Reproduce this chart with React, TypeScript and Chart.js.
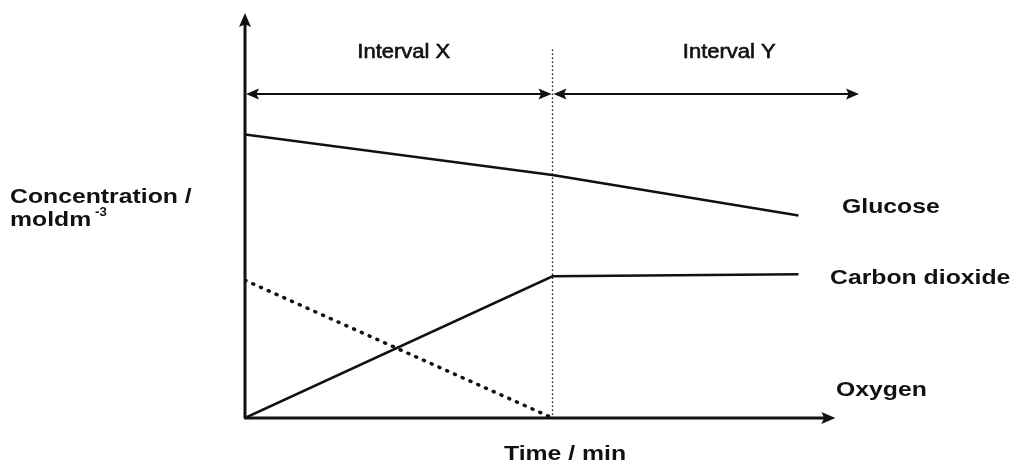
import React, { useEffect, useRef } from "react";
import { Chart, registerables } from "chart.js";

Chart.register(...registerables);

// ---- data ----
const timeValues = [0, 5, 9];
const glucoseValues = [7.0, 6.0, 5.0];
const co2Values = [0, 3.5, 3.55];
const oxygenTime = [0, 5];
const oxygenValues = [3.4, 0];
const seriesNames = ["Glucose", "Carbon dioxide", "Oxygen"];
const intervalLabels = ["Interval X", "Interval Y"];
const intervalBounds = [0, 5, 10];
const xAxisTitle = "Time / min";
const yAxisTitleLines = ["Concentration /", "moldm"];
const yAxisTitleSup = "-3";

const FONT = '"Liberation Sans", Arial, sans-serif';

function drawText(
  ctx: CanvasRenderingContext2D,
  text: string,
  x: number,
  y: number,
  font: string,
  sx: number,
  align: CanvasTextAlign,
  strokeW = 0
) {
  ctx.save();
  ctx.translate(x, y);
  ctx.scale(sx, 1);
  ctx.font = font;
  ctx.textAlign = align;
  ctx.textBaseline = "alphabetic";
  ctx.fillStyle = "#111";
  ctx.fillText(text, 0, 0);
  if (strokeW > 0) {
    ctx.strokeStyle = "#111";
    ctx.lineWidth = strokeW;
    ctx.strokeText(text, 0, 0);
  }
  ctx.restore();
}

function arrowHead(
  ctx: CanvasRenderingContext2D,
  tipX: number,
  tipY: number,
  dir: "left" | "right" | "up",
  len: number,
  half: number
) {
  ctx.beginPath();
  if (dir === "right") {
    ctx.moveTo(tipX, tipY);
    ctx.lineTo(tipX - len, tipY - half);
    ctx.lineTo(tipX - len * 0.8, tipY);
    ctx.lineTo(tipX - len, tipY + half);
  } else if (dir === "left") {
    ctx.moveTo(tipX, tipY);
    ctx.lineTo(tipX + len, tipY - half);
    ctx.lineTo(tipX + len * 0.8, tipY);
    ctx.lineTo(tipX + len, tipY + half);
  } else {
    ctx.moveTo(tipX, tipY);
    ctx.lineTo(tipX - half, tipY + len);
    ctx.lineTo(tipX, tipY + len * 0.8);
    ctx.lineTo(tipX + half, tipY + len);
  }
  ctx.closePath();
  ctx.fill();
}

const schematicPlugin = {
  id: "schematic",
  beforeDatasetsDraw(chart: any) {
    const { ctx, scales } = chart;
    const xs = scales.x;
    const ys = scales.y;
    const x0 = xs.getPixelForValue(0);
    const y0 = ys.getPixelForValue(0);
    ctx.save();
    ctx.strokeStyle = "#111";
    ctx.fillStyle = "#111";

    // boundary dotted vertical line
    const xb = xs.getPixelForValue(intervalBounds[1]);
    ctx.lineWidth = 1.3;
    ctx.setLineDash([1.5, 2.5]);
    ctx.beginPath();
    ctx.moveTo(xb, ys.getPixelForValue(9.1));
    ctx.lineTo(xb, y0);
    ctx.stroke();
    ctx.setLineDash([]);

    // axes
    ctx.lineWidth = 3;
    ctx.beginPath();
    ctx.moveTo(x0, y0);
    ctx.lineTo(x0, ys.getPixelForValue(10) + 8);
    ctx.moveTo(x0 - 1, y0);
    ctx.lineTo(xs.getPixelForValue(9.6) - 8, y0);
    ctx.stroke();
    arrowHead(ctx, x0, ys.getPixelForValue(10), "up", 14, 6);
    arrowHead(ctx, xs.getPixelForValue(9.6), y0, "right", 14, 6);

    // interval arrows
    const ya = ys.getPixelForValue(8);
    ctx.lineWidth = 2.2;
    for (let i = 0; i < intervalLabels.length; i++) {
      const a = xs.getPixelForValue(intervalBounds[i]);
      const b = xs.getPixelForValue(intervalBounds[i + 1]);
      ctx.beginPath();
      ctx.moveTo(a + 6, ya);
      ctx.lineTo(b - 6, ya);
      ctx.stroke();
      arrowHead(ctx, a + 1, ya, "left", 13, 5.5);
      arrowHead(ctx, b - 1, ya, "right", 13, 5.5);
    }
    ctx.restore();
  },
  afterDatasetsDraw(chart: any) {
    const { ctx, scales } = chart;
    const xs = scales.x;
    const bold = `bold 21px ${FONT}`;
    const sx = 1.18;

    // interval labels
    const intervalCenters = [
      (xs.getPixelForValue(intervalBounds[0]) + xs.getPixelForValue(intervalBounds[1])) / 2 + 5,
      (xs.getPixelForValue(intervalBounds[1]) + xs.getPixelForValue(intervalBounds[2])) / 2 + 23,
    ];
    intervalLabels.forEach((t, i) =>
      drawText(ctx, t, intervalCenters[i], 58, `20px ${FONT}`, 1.1, "center", 0.6)
    );

    // series labels
    drawText(ctx, seriesNames[0], 842, 213, bold, sx, "left");
    drawText(ctx, seriesNames[1], 830, 284, bold, sx, "left");
    drawText(ctx, seriesNames[2], 836, 396, bold, sx, "left");

    // axis titles
    drawText(ctx, xAxisTitle, 565, 460, bold, sx, "center");
    drawText(ctx, yAxisTitleLines[0], 10, 203, bold, sx, "left");
    drawText(ctx, yAxisTitleLines[1], 10, 226, bold, sx, "left");
    drawText(ctx, yAxisTitleSup, 95, 216, `bold 12px ${FONT}`, 1.1, "left");
  },
};

export default function App() {
  const canvasRef = useRef<HTMLCanvasElement | null>(null);

  useEffect(() => {
    const canvas = canvasRef.current;
    if (!canvas) return;
    const chart = new Chart(canvas, {
      type: "line",
      data: {
        datasets: [
          {
            label: seriesNames[0],
            data: timeValues.map((t, i) => ({ x: t, y: glucoseValues[i] })),
            borderColor: "#111",
            borderWidth: 2.5,
            pointRadius: 0,
            tension: 0,
          },
          {
            label: seriesNames[1],
            data: timeValues.map((t, i) => ({ x: t, y: co2Values[i] })),
            borderColor: "#111",
            borderWidth: 2.5,
            pointRadius: 0,
            tension: 0,
          },
          {
            label: seriesNames[2],
            data: oxygenTime.map((t, i) => ({ x: t, y: oxygenValues[i] })),
            borderColor: "#111",
            borderWidth: 3.5,
            borderDash: [1, 7.5],
            borderCapStyle: "round",
            pointRadius: 0,
            tension: 0,
          },
        ],
      },
      options: {
        responsive: false,
        animation: false,
        layout: { padding: { left: 245, right: 160, top: 13, bottom: 48 } },
        scales: {
          x: { type: "linear", min: 0, max: 10, display: false },
          y: { type: "linear", min: 0, max: 10, display: false },
        },
        plugins: {
          legend: { display: false },
          tooltip: { enabled: false },
        },
      },
      plugins: [schematicPlugin],
    });
    return () => chart.destroy();
  }, []);

  return (
    <div style={{ position: "fixed", left: 0, top: 0, width: 1020, height: 466, background: "#fff" }}>
      <canvas ref={canvasRef} width={1020} height={466} style={{ display: "block" }} />
    </div>
  );
}
